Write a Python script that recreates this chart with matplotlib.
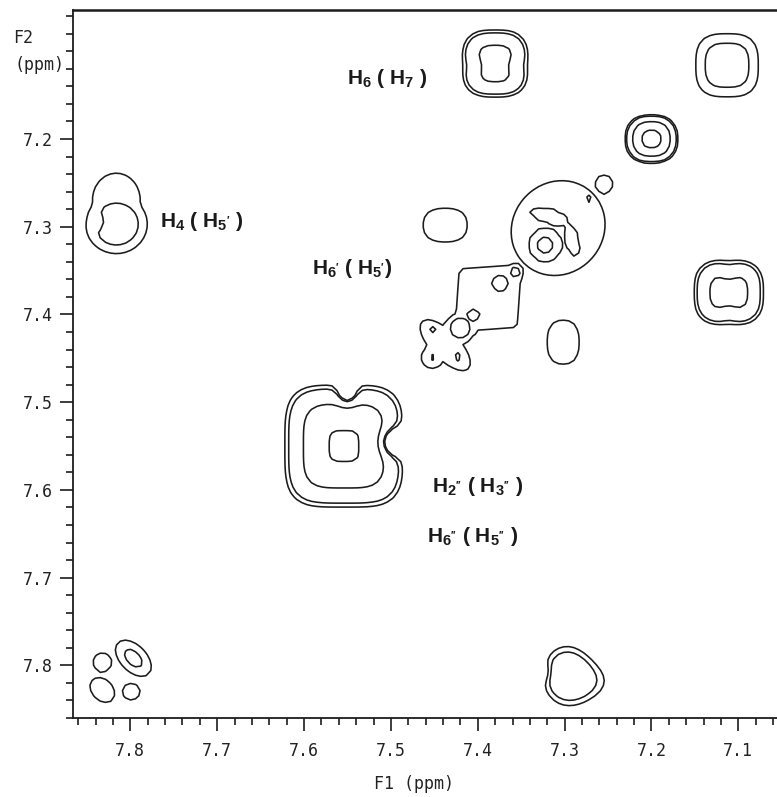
import numpy as np
import matplotlib
matplotlib.use("Agg")
import matplotlib.pyplot as plt
from matplotlib.ticker import MultipleLocator, FixedLocator

# --- COSY cross/diagonal peaks, each a 2-D bell shape -------------------------
# centre (F1, F2) in ppm, half-widths along the rotated axes (ppm), rotation (deg),
# amplitude (negative = local dip), shape norm (2 = ellipse, >2 = squarer),
# group (components of one group are summed, groups are combined by maximum)
peak_f1 = [7.380, 7.3995, 7.3605,               # H6/H7 cross peak + waist dips
           7.113,                               # top-right cross peak
           7.200,                               # diagonal 7.20
           7.111, 7.111, 7.111,                 # right cross peak + waist dips
           7.8161, 7.8345, 7.8161,              # H4/H5' cross peak (+ notch, upper shoulder)
           7.7965, 7.8322, 7.8322, 7.799,       # lower-left cluster
           7.2983, 7.2615, 7.326, 7.2937,       # lower cross peak
           7.554, 7.5503, 7.5008,               # H2''/H3'' diagonal peak + dips
           7.4375, 7.3017, 7.2546,              # small isolated peaks
           7.3075, 7.388, 7.4375,               # H6'/H5' ridge envelope
           7.3225, 7.3178, 7.2914, 7.2718,      # ridge: main lobe details
           7.3742, 7.357, 7.4203, 7.4053,       # ridge: inner islands
           7.4525, 7.4226, 7.4525]              # ridge: lower-left end
peak_f2 = [7.114, 7.117, 7.117,
           7.116,
           7.200,
           7.375, 7.356, 7.394,
           7.297, 7.2948, 7.2697,
           7.7919, 7.7965, 7.828, 7.830,
           7.8113, 7.819, 7.808, 7.8227,
           7.550, 7.4925, 7.5456,
           7.2982, 7.4316, 7.2514,
           7.3016, 7.3814, 7.435,
           7.321, 7.2879, 7.3153, 7.2685,
           7.3643, 7.352, 7.4156, 7.4008,
           7.4179, 7.4487, 7.449]
peak_wa = [0.0215, 0.008, 0.008,
           0.0355,
           0.0141,
           0.0224, 0.008, 0.008,
           0.0346, 0.007, 0.0457,
           0.030, 0.018, 0.027, 0.0172,
           0.0223, 0.025, 0.008, 0.006,
           0.0333, 0.0075, 0.011,
           0.042, 0.0305, 0.0172,
           0.093, 0.090, 0.063,
           0.0123, 0.0250, 0.0210, 0.0055,
           0.0143, 0.009, 0.0178, 0.0107,
           0.0055, 0.0055, 0.0168]
peak_wb = [0.0215, 0.008, 0.008,
           0.0355,
           0.0129,
           0.021, 0.008, 0.008,
           0.0327, 0.007, 0.051,
           0.018, 0.018, 0.020, 0.016,
           0.0271, 0.020, 0.008, 0.006,
           0.0341, 0.0095, 0.011,
           0.032, 0.0416, 0.0172,
           0.086, 0.078, 0.0265,
           0.0123, 0.0080, 0.0075, 0.0055,
           0.0143, 0.009, 0.0178, 0.0107,
           0.0055, 0.0055, 0.0168]
peak_rot = [0, 0, 0,
            0,
            0,
            0, 0, 0,
            0, 0, 0,
            -45, 0, -45, 0,
            0, 0, 0, 0,
            0, 0, 0,
            0, 0, 0,
            45, 45, -45,
            0, 165, 104, 0,
            0, 0, 0, 0,
            0, 0, 0]
peak_amp = [0.48, -0.08, -0.08,
            0.167,
            0.95,
            0.48, -0.08, -0.08,
            0.17, -0.03, 0.12,
            0.142, 0.12, 0.12, 0.12,
            0.20, 0.075, -0.05, -0.04,
            0.80, -0.18, -0.24,
            0.12, 0.12, 0.12,
            0.12, 0.12, 0.12,
            0.396, 0.20, 0.20, 0.16,
            0.16, 0.16, 0.16, 0.16,
            0.16, 0.16, 0.133]
peak_norm = [3, 2, 2,
             3,
             2.5,
             3, 2, 2,
             2, 2, 2,
             2, 2, 2, 2,
             2, 2, 2, 2,
             4, 2, 2,
             2.5, 2.5, 2,
             2, 1.0, 2,
             2, 2, 2, 2,
             2, 2, 2, 2,
             2, 2, 2]
peak_group = [0, 0, 0,
              1,
              2,
              3, 3, 3,
              4, 4, 28,
              5, 6, 7, 8,
              9, 9, 9, 9,
              10, 10, 10,
              11, 12, 13,
              14, 15, 16,
              17, 18, 19, 20,
              21, 22, 23, 24,
              25, 26, 27]

contour_levels = [0.10, 0.13, 0.30, 0.70]

# axis ticks
x_major = [7.8, 7.7, 7.6, 7.5, 7.4, 7.3, 7.2, 7.1]
y_major = [7.2, 7.3, 7.4, 7.5, 7.6, 7.7, 7.8]

# peak assignments
label_text = ["H$_6$ ( H$_7$ )",
              "H$_4$ ( H$_{5'}$ )",
              "H$_{6'}$ ( H$_{5'}$)",
              "H$_{2''}$ ( H$_{3''}$ )",
              "H$_{6''}$ ( H$_{5''}$ )"]
label_f1 = [7.5503, 7.7655, 7.5906, 7.4525, 7.4582]
label_f2 = [7.1271, 7.2902, 7.3438, 7.5924, 7.6494]

# --- build the spectrum on the (coarse) digitisation grid --------------------
f1 = np.arange(7.04, 7.88, 0.0058)
f2 = np.arange(7.04, 7.88, 0.0058)
F1, F2 = np.meshgrid(f1, f2)

groups = {}
for c1, c2, wa, wb, rot, amp, q, g in zip(peak_f1, peak_f2, peak_wa, peak_wb,
                                          peak_rot, peak_amp, peak_norm, peak_group):
    t = np.deg2rad(rot)
    d1, d2 = F1 - c1, F2 - c2
    u = (d1 * np.cos(t) + d2 * np.sin(t)) / wa
    v = (-d1 * np.sin(t) + d2 * np.cos(t)) / wb
    r = (np.abs(u) ** q + np.abs(v) ** q) ** (1.0 / q)
    groups[g] = groups.get(g, 0) + amp * np.exp(-0.5 * r ** 2)
Z = np.maximum.reduce(list(groups.values()))

# --- figure -------------------------------------------------------------------
plt.rcParams['mathtext.fontset'] = 'custom'
plt.rcParams['mathtext.rm'] = 'Liberation Sans:bold'
plt.rcParams['mathtext.bf'] = 'Liberation Sans:bold'
plt.rcParams['mathtext.default'] = 'bf'

fig = plt.figure(figsize=(7.77, 7.97), dpi=100)
ax = fig.add_axes([73 / 777, 1 - 718 / 797, 1 - 73 / 777, (718 - 10) / 797])

ax.contour(F1, F2, Z, levels=contour_levels, colors='#1c1c1c', linewidths=1.15)

ax.set_xlim(7.866, 7.0555)
ax.set_ylim(7.860, 7.053)

ax.spines['right'].set_visible(False)
for s in ('left', 'bottom', 'top'):
    ax.spines[s].set_linewidth(1.3)
    ax.spines[s].set_color('#1c1c1c')
ax.spines['top'].set_linewidth(1.8)

ax.xaxis.set_major_locator(FixedLocator(x_major))
ax.yaxis.set_major_locator(FixedLocator(y_major))
ax.xaxis.set_minor_locator(MultipleLocator(0.02))
ax.yaxis.set_minor_locator(MultipleLocator(0.02))
ax.set_xticklabels([f"{v:.1f}" for v in x_major])
ax.set_yticklabels([f"{v:.1f}" for v in y_major])

ax.tick_params(which='major', direction='out', length=9.5, width=1.2,
               color='#1c1c1c', labelsize=12, labelcolor='#222222')
ax.tick_params(which='minor', direction='out', length=5, width=1.2, color='#1c1c1c')
ax.tick_params(axis='x', which='major', pad=8)
ax.tick_params(axis='y', which='major', pad=5)
for lab in ax.get_xticklabels() + ax.get_yticklabels():
    lab.set_family('DejaVu Sans Mono')

fig.text(414 / 777, 1 - 784 / 797, "F1 (ppm)", family='DejaVu Sans Mono',
         fontsize=12, color='#222222', ha='center', va='center')
fig.text(13 / 777, 1 - 38 / 797, "F2", family='DejaVu Sans Mono',
         fontsize=12, color='#222222', ha='left', va='center')
fig.text(15 / 777, 1 - 65 / 797, "(ppm)", family='DejaVu Sans Mono',
         fontsize=12, color='#222222', ha='left', va='center')

for txt, x, y in zip(label_text, label_f1, label_f2):
    ax.text(x, y, txt, family='Liberation Sans', fontweight='bold', fontsize=15,
            color='#1a1a1a', ha='left', va='center_baseline')

fig.savefig("out.png", dpi=100, facecolor='white')
